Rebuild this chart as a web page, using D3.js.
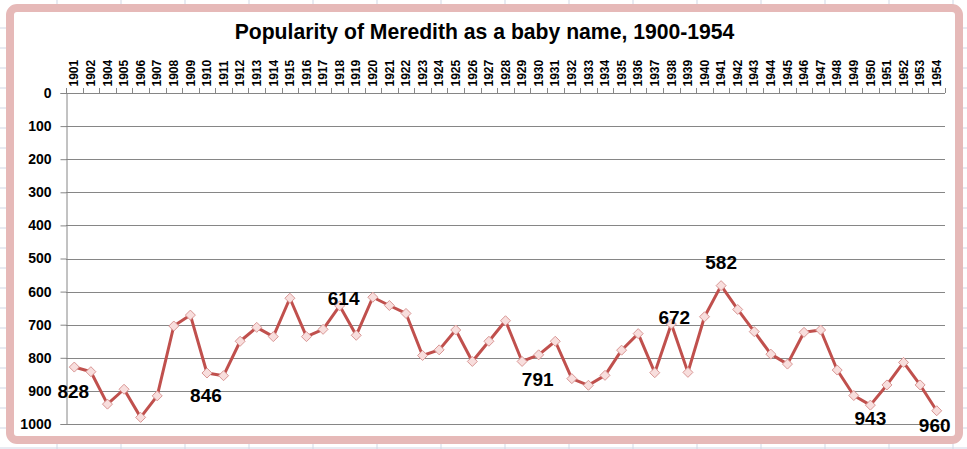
<!DOCTYPE html>
<html>
<head>
<meta charset="utf-8">
<script src="https://cdn.jsdelivr.net/npm/d3@7"></script>
<style>
  html, body { margin: 0; padding: 0; background: #ffffff; }
  svg { display: block; }
  text { font-family: "Liberation Sans", Arial, sans-serif; font-weight: bold; fill: #000; }
</style>
</head>
<body>
<svg id="chart" width="967" height="449"></svg>
<script>
// ---------- DATA ----------
const title = "Popularity of Meredith as a baby name, 1900-1954";
const years = [1901,1902,1904,1905,1906,1907,1908,1909,1910,1911,1912,1913,1914,1915,1916,1917,1918,1919,1920,1921,1922,1923,1924,1925,1926,1927,1928,1929,1930,1931,1932,1933,1934,1935,1936,1937,1938,1939,1940,1941,1942,1943,1944,1945,1946,1947,1948,1949,1950,1951,1952,1953,1954];
const ranks = [828,842,940,895,980,915,704,671,846,854,750,708,736,620,736,714,643,732,617,642,666,793,776,716,811,750,688,811,791,750,863,883,853,777,727,845,698,844,676,582,654,721,789,819,723,716,837,914,943,882,814,882,960];
const yTicks = [0,100,200,300,400,500,600,700,800,900,1000];
const labelYears = [1901,1910,1918,1930,1938,1941,1950,1954];
const labelTexts = ["828","846","614","791","672","582","943","960"];

// ---------- DRAW ----------
const svg = d3.select("#chart");
const W = 967, H = 449;

// spreadsheet grid behind the chart
const bg = svg.append("g");
d3.range(57, W, 64).forEach(x => bg.append("line").attr("x1", x).attr("x2", x).attr("y1", 0).attr("y2", H)
  .attr("stroke", "#d0d7e5").attr("stroke-width", 1));
d3.range(28, H, 20).forEach(y => bg.append("line").attr("x1", 0).attr("x2", W).attr("y1", y).attr("y2", y)
  .attr("stroke", "#d0d7e5").attr("stroke-width", 1));

// chart frame
svg.append("rect").attr("x", 10).attr("y", 8).attr("width", 949).attr("height", 432)
  .attr("rx", 7).attr("fill", "#ffffff").attr("stroke", "#e6b9b8").attr("stroke-width", 8);

// title
const t = svg.append("text").attr("x", 484.5).attr("y", 39).attr("text-anchor", "middle")
  .style("font-size", "18px").text(title);
const tw = t.node().getComputedTextLength();
t.style("font-size", (18 * 500 / tw) + "px");

const plot = { left: 66, right: 945, top: 93, bottom: 424 };
const x = d3.scaleBand().domain(years).range([plot.left, plot.right]).padding(0);
const y = d3.scaleLinear().domain([0, 1000]).range([plot.top, plot.bottom]);
const cx = d => x(d) + x.bandwidth() / 2;

// horizontal gridlines
svg.append("g").selectAll("line").data(yTicks).join("line")
  .attr("x1", plot.left).attr("x2", plot.right)
  .attr("y1", d => Math.round(y(d)) + 0.5).attr("y2", d => Math.round(y(d)) + 0.5)
  .attr("stroke", "#868686").attr("stroke-width", 1);

// y axis
const yAxis = svg.append("g").attr("transform", `translate(${plot.left + 0.5},0)`)
  .call(d3.axisLeft(y).tickValues(yTicks).tickSize(6).tickPadding(9).tickFormat(d3.format("d")));
yAxis.select(".domain").attr("stroke", "#868686");
yAxis.selectAll(".tick line").attr("stroke", "#868686");
yAxis.selectAll(".tick text").style("font-size", "14px").style("font-family", "'Liberation Sans', Arial, sans-serif")
  .style("font-weight", "bold").attr("fill", "#000");

// x axis at top (value 0)
const xAxis = svg.append("g").attr("transform", `translate(0,${Math.round(y(0)) + 0.5})`)
  .call(d3.axisTop(x).tickSize(0).tickPadding(0));
xAxis.select(".domain").remove();
xAxis.selectAll(".tick text")
  .style("font-size", "12px").style("font-family", "'Liberation Sans', Arial, sans-serif")
  .style("font-weight", "bold").attr("fill", "#000")
  .attr("text-anchor", "start")
  .attr("transform", "translate(0,-7) rotate(-90)")
  .attr("x", 0).attr("y", 0).attr("dy", "0.35em");
// category boundary ticks
svg.append("g").selectAll("line").data(d3.range(years.length + 1)).join("line")
  .attr("x1", i => Math.round(plot.left + i * x.step()) + 0.5)
  .attr("x2", i => Math.round(plot.left + i * x.step()) + 0.5)
  .attr("y1", y(0) - 5).attr("y2", y(0))
  .attr("stroke", "#868686").attr("stroke-width", 1);

// line
const pts = years.map((yr, i) => ({ yr, v: ranks[i] }));
svg.append("path").datum(pts)
  .attr("d", d3.line().x(d => cx(d.yr)).y(d => y(d.v)))
  .attr("fill", "none").attr("stroke", "#c0504d").attr("stroke-width", 3).attr("stroke-linejoin", "round");

// diamond markers
svg.append("g").selectAll("path").data(pts).join("path")
  .attr("transform", d => `translate(${cx(d.yr)},${y(d.v)})`)
  .attr("d", "M0,-5L5,0L0,5L-5,0Z")
  .attr("fill", "#f8dedd").attr("stroke", "#d99795").attr("stroke-width", 1);

// data labels
const placement = { 1901: [-1, 24], 1910: [-1, 22], 1918: [4, -8], 1930: [-1, 24], 1938: [3, -7], 1941: [0, -23], 1950: [0, 13], 1954: [-2, 14] };
svg.append("g").selectAll("text").data(labelYears.map((yr, i) => ({ yr, txt: labelTexts[i], v: ranks[years.indexOf(yr)] })))
  .join("text")
  .attr("x", d => cx(d.yr) + placement[d.yr][0])
  .attr("y", d => y(d.v) + placement[d.yr][1])
  .attr("dy", "0.36em")
  .attr("text-anchor", "middle")
  .style("font-size", "19px")
  .text(d => d.txt);
</script>
</body>
</html>
